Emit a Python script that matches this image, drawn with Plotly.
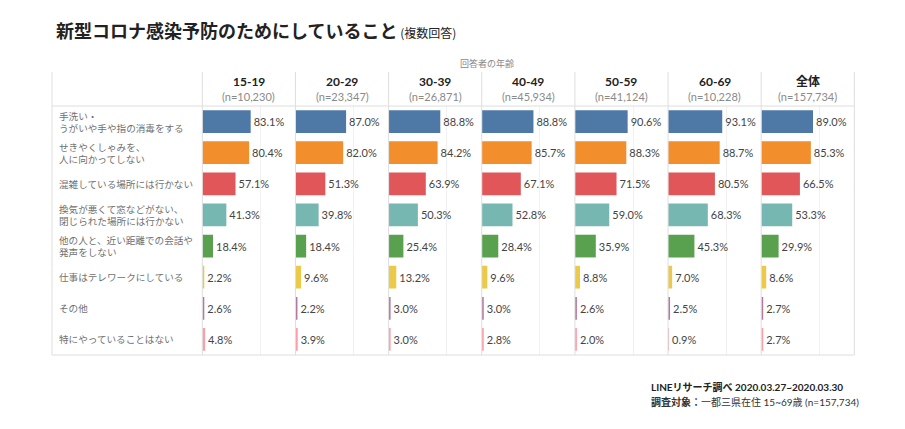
import plotly.graph_objects as go

# page has an 8px body margin, so the figure is drawn 16px smaller
W, H = 889, 413
OFF = 8

ages = ["15-19", "20-29", "30-39", "40-49", "50-59", "60-69", "全体"]
sample_sizes = ["(n=10,230)", "(n=23,347)", "(n=26,871)", "(n=45,934)",
                "(n=41,124)", "(n=10,228)", "(n=157,734)"]

items = [
    "手洗い・<br>うがいや手や指の消毒をする",
    "せきやくしゃみを、<br>人に向かってしない",
    "混雑している場所には行かない",
    "換気が悪くて窓などがない、<br>閉じられた場所には行かない",
    "他の人と、近い距離での会話や<br>発声をしない",
    "仕事はテレワークにしている",
    "その他",
    "特にやっていることはない",
]
colors = ["#4E79A7", "#F28E2B", "#E15759", "#76B7B2",
          "#59A14F", "#EDC948", "#B07AA1", "#FF9DA7"]

vals_15_19 = [83.1, 80.4, 57.1, 41.3, 18.4, 2.2, 2.6, 4.8]
vals_20_29 = [87.0, 82.0, 51.3, 39.8, 18.4, 9.6, 2.2, 3.9]
vals_30_39 = [88.8, 84.2, 63.9, 50.3, 25.4, 13.2, 3.0, 3.0]
vals_40_49 = [88.8, 85.7, 67.1, 52.8, 28.4, 9.6, 3.0, 2.8]
vals_50_59 = [90.6, 88.3, 71.5, 59.0, 35.9, 8.8, 2.6, 2.0]
vals_60_69 = [93.1, 88.7, 80.5, 68.3, 45.3, 7.0, 2.5, 0.9]
vals_all = [89.0, 85.3, 66.5, 53.3, 29.9, 8.6, 2.7, 2.7]
panels = [vals_15_19, vals_20_29, vals_30_39, vals_40_49, vals_50_59, vals_60_69, vals_all]

FONT = "Lato, 'Noto Sans CJK JP', sans-serif"
JP = "'Noto Sans CJK JP', sans-serif"

# screen pixel -> paper coords
def px(x):
    return (x - OFF) / W

def py(y):
    return 1 - (y - OFF) / H

LEFT, TOP, HDR, BOTTOM = 52, 72, 106, 355
P0, PW = 202.3, 93.15
line_col = "#dedede"

def note(x, y, text, size, color, family=FONT, xanchor="center", yref="paper"):
    fig.add_annotation(x=x, y=y, xref="paper", yref=yref, text=text,
                       xanchor=xanchor, yanchor="middle", align="left",
                       showarrow=False, font=dict(family=family, size=size, color=color))

fig = go.Figure()
layout_axes = {}
for k, (age, vals) in enumerate(zip(ages, panels)):
    xa = "x" if k == 0 else f"x{k+1}"
    fig.add_trace(go.Bar(
        x=vals, y=list(range(len(items))), orientation="h",
        marker=dict(color=colors, line=dict(width=0)),
        width=0.73, xaxis=xa, yaxis="y",
        texttemplate="%{x:.1f}%", textposition="outside",
        textfont=dict(family=FONT, size=11, color="#444"),
        cliponaxis=False, constraintext="none", showlegend=False,
        hoverinfo="skip",
    ))
    name = "xaxis" if k == 0 else f"xaxis{k+1}"
    layout_axes[name] = dict(
        domain=[px(P0 + k * PW), px(P0 + (k + 1) * PW)],
        range=[0, 160], anchor="y", tickvals=[100], showticklabels=False,
        showgrid=True, gridcolor="#f1f1f1", gridwidth=1,
        zeroline=False, showline=False, fixedrange=True,
    )
    cx = px(P0 + (k + 0.5) * PW)
    note(cx, py(82), f"<b>{age}</b>", 12, "#222")
    note(cx, py(96), sample_sizes[k], 11, "#8a8a8a")

fig.update_layout(**layout_axes)
fig.update_layout(yaxis=dict(
    domain=[py(BOTTOM), py(HDR)], range=[len(items) - 0.5, -0.5],
    showticklabels=False, showgrid=False, zeroline=False, fixedrange=True,
))

# row labels
for i, lab in enumerate(items):
    note(px(57), i, lab, 9.6, "#707070", family=JP, xanchor="left", yref="y")

# table lines
shapes = []
for k in range(len(ages) + 1):
    x = px(P0 + k * PW)
    shapes.append(dict(type="line", xref="paper", yref="paper", x0=x, x1=x,
                       y0=py(TOP), y1=py(BOTTOM), line=dict(color=line_col, width=1)))
shapes.append(dict(type="line", xref="paper", yref="paper", x0=px(LEFT), x1=px(LEFT),
                   y0=py(TOP), y1=py(BOTTOM), line=dict(color=line_col, width=1)))
for y in (HDR, BOTTOM):
    shapes.append(dict(type="line", xref="paper", yref="paper", x0=px(LEFT),
                       x1=px(P0 + 7 * PW), y0=py(y), y1=py(y),
                       line=dict(color=line_col, width=1)))
fig.update_layout(shapes=shapes)

# title, axis caption, footer
note(px(54), py(30), "<b>新型コロナ感染予防のためにしていること</b>"
     "<span style='font-size:12px'> (複数回答)</span>", 18, "#222", family=JP, xanchor="left")
note(px(487), py(64), "回答者の年齢", 9, "#888", family=JP)
note(px(649), py(387), "<b>LINEリサーチ調べ 2020.03.27~2020.03.30</b>", 10, "#222", xanchor="left")
note(px(649), py(402), "<b>調査対象：</b>一都三県在住 15~69歳 (n=157,734)", 10, "#333", xanchor="left")

fig.update_layout(
    width=W, height=H, margin=dict(l=0, r=0, t=0, b=0),
    paper_bgcolor="white", plot_bgcolor="rgba(0,0,0,0)",
)

fig.write_html("out.html")
